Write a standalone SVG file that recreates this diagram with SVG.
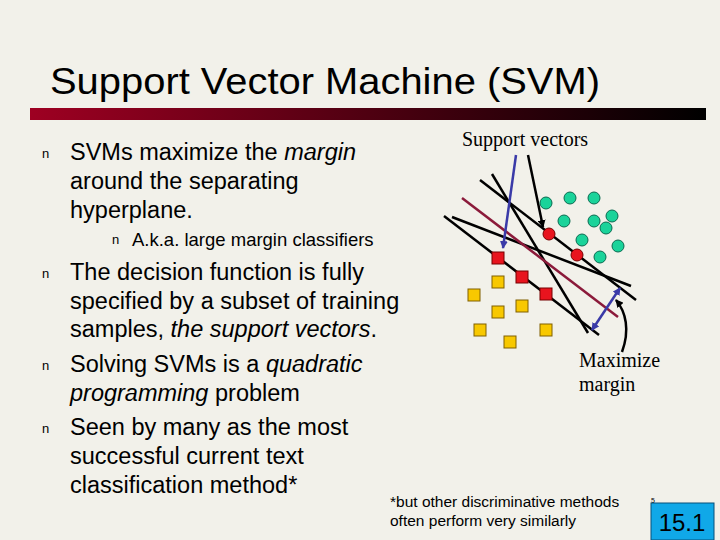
<svg xmlns="http://www.w3.org/2000/svg" width="720" height="540" viewBox="0 0 720 540">
<defs>
<linearGradient id="bar" x1="0" x2="1"><stop offset="0" stop-color="#9e0022"/><stop offset="1" stop-color="#000"/></linearGradient>
<marker id="ab" markerWidth="8" markerHeight="8" refX="7" refY="4" orient="auto" markerUnits="userSpaceOnUse"><path d="M0,0 L8,4 L0,8 z" fill="#3a3aa8"/></marker>
<marker id="ab2" markerWidth="8" markerHeight="8" refX="7" refY="4" orient="auto-start-reverse" markerUnits="userSpaceOnUse"><path d="M0,0 L8,4 L0,8 z" fill="#3a3aa8"/></marker>
<marker id="ak" markerWidth="8" markerHeight="8" refX="7" refY="4" orient="auto" markerUnits="userSpaceOnUse"><path d="M0,0 L8,4 L0,8 z" fill="#000"/></marker>
</defs>
<style>
.t{font-family:"Liberation Sans",Arial,sans-serif;fill:#000}
.s{font-family:"Liberation Serif","Times New Roman",serif;fill:#000;font-size:20px}
.b{font-family:"Liberation Sans",sans-serif;font-size:13px}
.c{fill:#1ad39a;stroke:#0a6a50;stroke-width:1}
.r{fill:#e8141e;stroke:#700;stroke-width:1}
.y{fill:#f8c800;stroke:#806000;stroke-width:1}
.k{stroke:#000;stroke-width:2.5;fill:none}
</style>
<rect width="720" height="540" fill="#f2f1ea"/>
<text class="t" x="50" y="94" font-size="37" textLength="550" lengthAdjust="spacingAndGlyphs">Support Vector Machine (SVM)</text>
<rect x="30" y="108" width="676" height="12" fill="url(#bar)"/>
<g id="text" class="t" font-size="23.5">
<text class="b" x="42" y="158">n</text>
<text x="70" y="160">SVMs maximize the <tspan font-style="italic">margin</tspan></text>
<text x="70" y="189">around the separating</text>
<text x="70" y="218">hyperplane.</text>
<text class="b" x="112" y="244" font-size="10">n</text>
<text x="132" y="246" font-size="18.5">A.k.a. large margin classifiers</text>
<text class="b" x="42" y="278">n</text>
<text x="70" y="280">The decision function is fully</text>
<text x="70" y="309">specified by a subset of training</text>
<text x="70" y="337">samples, <tspan font-style="italic">the support vectors</tspan>.</text>
<text class="b" x="42" y="370">n</text>
<text x="70" y="372">Solving SVMs is a <tspan font-style="italic">quadratic</tspan></text>
<text x="70" y="401" font-style="italic">programming <tspan font-style="normal">problem</tspan></text>
<text class="b" x="42" y="433">n</text>
<text x="70" y="435">Seen by many as the most</text>
<text x="70" y="464">successful current text</text>
<text x="70" y="493">classification method*</text>
</g>
<text class="s" x="462" y="146">Support vectors</text>
<text class="s" x="579" y="367">Maximize</text>
<text class="s" x="579" y="391">margin</text>
<text class="t" x="390" y="507" font-size="15.5">*but other discriminative methods</text>
<text class="t" x="390" y="526" font-size="15.5">often perform very similarly</text>
<text class="t" x="651" y="503" font-size="7">5</text>
<g id="badge"><rect x="651" y="503" width="63" height="37" fill="#10a8e8" stroke="#06507a"/>
<text class="t" x="682" y="531" font-size="24" text-anchor="middle">15.1</text></g>
<g id="connectors">
<line class="k" x1="480" y1="180" x2="636" y2="300"/>
<line class="k" x1="444" y1="216" x2="599" y2="335"/>
<line class="k" x1="492" y1="174" x2="588" y2="333"/>
<line class="k" x1="452" y1="217" x2="631" y2="286"/>
<line x1="462" y1="198" x2="618" y2="317" stroke="#8b1a3a" stroke-width="2.5"/>
<line x1="516" y1="155" x2="503" y2="248" stroke="#3a3aa8" stroke-width="2.5" marker-end="url(#ab)"/>
<line x1="528" y1="155" x2="543" y2="227" stroke="#000" stroke-width="2.5" marker-end="url(#ak)"/>
<line x1="620" y1="288" x2="592" y2="330" stroke="#3a3aa8" stroke-width="2.5" marker-start="url(#ab2)" marker-end="url(#ab2)"/>
<path d="M622,352 C630,330 626,312 616,300" stroke="#000" stroke-width="2.5" fill="none" marker-end="url(#ak)"/>
</g>
<g id="points">
<circle class="c" cx="546" cy="203" r="6"/><circle class="c" cx="570" cy="198" r="6"/><circle class="c" cx="594" cy="198" r="6"/>
<circle class="c" cx="564" cy="221" r="6"/><circle class="c" cx="594" cy="221" r="6"/><circle class="c" cx="612" cy="216" r="6"/>
<circle class="c" cx="606" cy="228" r="6"/><circle class="c" cx="582" cy="240" r="6"/><circle class="c" cx="618" cy="246" r="6"/>
<circle class="c" cx="600" cy="257" r="6"/>
<circle class="r" cx="549" cy="234" r="6"/><circle class="r" cx="577" cy="255" r="6"/>
<rect class="r" x="492" y="252" width="12" height="12"/><rect class="r" x="516" y="271" width="12" height="12"/><rect class="r" x="540" y="288" width="12" height="12"/>
<rect class="y" x="492" y="276" width="12" height="12"/><rect class="y" x="468" y="289" width="12" height="12"/><rect class="y" x="516" y="300" width="12" height="12"/>
<rect class="y" x="492" y="306" width="12" height="12"/><rect class="y" x="474" y="324" width="12" height="12"/><rect class="y" x="540" y="324" width="12" height="12"/>
<rect class="y" x="504" y="336" width="12" height="12"/>
</g>
</svg>
